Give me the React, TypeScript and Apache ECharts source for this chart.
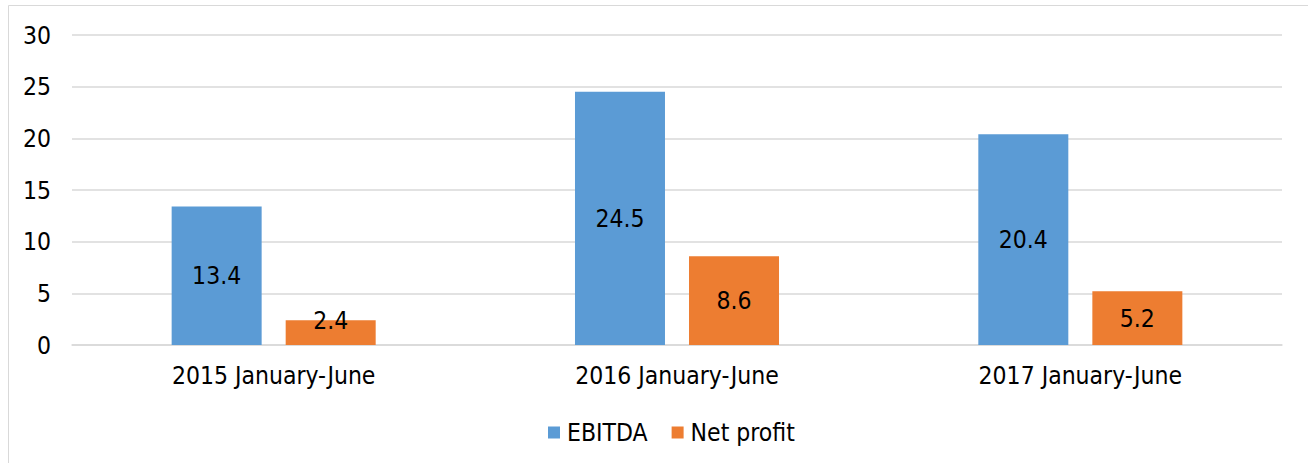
import React, { useEffect, useRef } from "react";
import * as echarts from "echarts";

const categories = ["2015 January-June", "2016 January-June", "2017 January-June"];
const ebitda = [13.4, 24.5, 20.4];
const netProfit = [2.4, 8.6, 5.2];
const seriesNames = ["EBITDA", "Net profit"];

const FONT = "'DejaVu Sans Condensed', 'DejaVu Sans', Verdana, sans-serif";
const FS = 24.5;

// short bars get their label nudged upward, as in the source chart
const toItems = (vals: number[]) =>
  vals.map((v) => (v < 3 ? { value: v, label: { offset: [0, -12] } } : v));

export default function App() {
  const ref = useRef<HTMLDivElement>(null);
  useEffect(() => {
    if (!ref.current) return;
    const chart = echarts.init(ref.current, null, { renderer: "svg" });
    const label = {
      show: true,
      position: "inside",
      color: "#000",
      fontSize: FS,
      fontFamily: FONT,
      formatter: (p: any) => Number(p.value).toFixed(1),
    };
    chart.setOption({
      animation: false,
      backgroundColor: "#fff",
      textStyle: { fontFamily: FONT },
      graphic: [
        {
          type: "rect",
          shape: { x: 8.5, y: 5.5, width: 1320, height: 480 },
          style: { fill: "none", stroke: "#d9d9d9", lineWidth: 1 },
          silent: true,
        },
      ],
      grid: { left: 72, right: 26, top: 35, bottom: 118, containLabel: false },
      legend: {
        data: seriesNames,
        top: 415,
        left: 543,
        itemWidth: 12,
        itemHeight: 12,
        itemGap: 24,
        icon: "rect",
        textStyle: { color: "#000", fontSize: FS, fontFamily: FONT, padding: [0, 0, 0, 2] },
      },
      xAxis: {
        type: "category",
        data: categories,
        axisLine: { show: true, lineStyle: { color: "#d9d9d9", width: 1.5 } },
        axisTick: { show: false },
        axisLabel: { color: "#000", fontSize: FS, fontFamily: FONT, margin: 18 },
      },
      yAxis: {
        type: "value",
        min: 0,
        max: 30,
        interval: 5,
        axisLine: { show: false },
        axisTick: { show: false },
        splitLine: { lineStyle: { color: "#d9d9d9", width: 1.5 } },
        axisLabel: { color: "#000", fontSize: FS, fontFamily: FONT, margin: 21 },
      },
      series: [
        {
          name: seriesNames[0],
          type: "bar",
          data: toItems(ebitda),
          barWidth: 90,
          barGap: "26.7%",
          itemStyle: { color: "#5b9bd5" },
          label,
        },
        {
          name: seriesNames[1],
          type: "bar",
          data: toItems(netProfit),
          barWidth: 90,
          itemStyle: { color: "#ed7d31" },
          label,
        },
      ],
    });
    return () => chart.dispose();
  }, []);
  return (
    <div
      ref={ref}
      style={{ position: "absolute", left: 0, top: 0, width: 1308, height: 463 }}
    />
  );
}
